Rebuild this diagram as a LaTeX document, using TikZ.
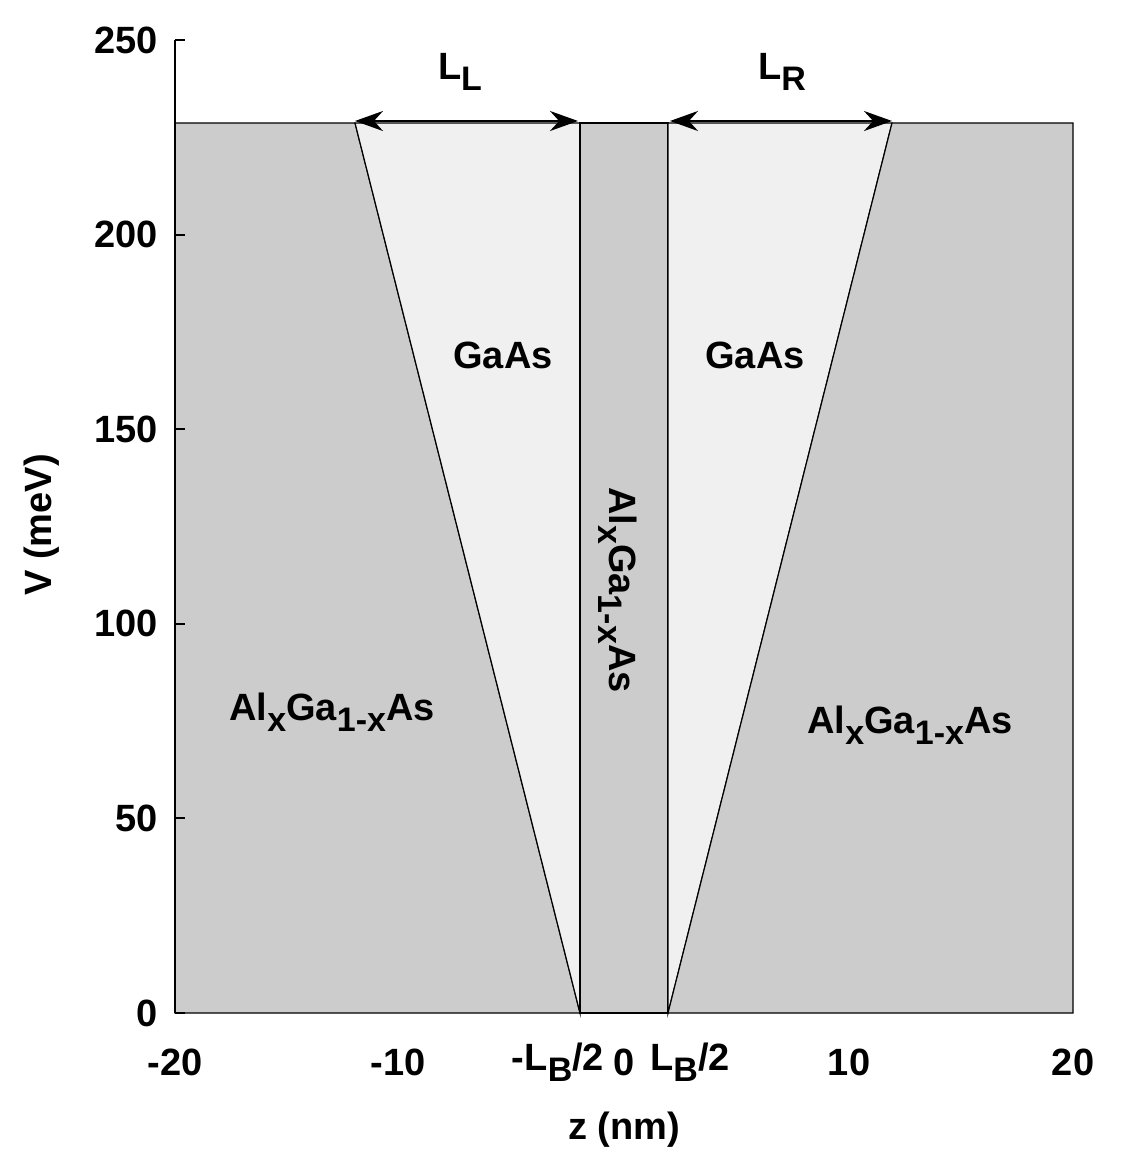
\documentclass[tikz,border=0pt]{standalone}
\usepackage{fontspec}
\setmainfont{Liberation Sans}
\usetikzlibrary{arrows.meta}
\newcommand\dnsub[1]{\raisebox{-0.55ex}{\fontsize{17}{20}\selectfont #1}}
\begin{document}
\begin{tikzpicture}[x=0.5pt,y=-0.5pt,
  lbl/.style={font=\fontsize{19}{22}\selectfont\bfseries,inner sep=1pt},
  dark/.style={fill=black!20,draw=black,line width=0.6pt},
  light/.style={fill=black!6,draw=black,line width=0.6pt},
  dim/.style={{Stealth[length=14pt,width=10pt]}-{Stealth[length=14pt,width=10pt]},line width=1pt}]
\useasboundingbox (0,0) rectangle (1123,1173);
\fill[white] (0,0) rectangle (1123,1173);
% regions
\draw[dark] (175,123) -- (355,123) -- (580,1013) -- (175,1013) -- cycle;
\draw[light] (355,123) -- (580,123) -- (580,1013) -- cycle;
\draw[dark] (580,123) rectangle (668,1013);
\draw[light] (668,123) -- (892,123) -- (668,1013) -- cycle;
\draw[dark] (892,123) -- (1073,123) -- (1073,1013) -- (668,1013) -- cycle;
% y axis
\draw[line width=1pt] (175,40) -- (175,1013);
\foreach \v/\n in {0/a,50/b,100/c,150/d,200/e,250/f}{
  \draw[line width=1pt] (175,{1013-3.892*\v}) -- (185,{1013-3.892*\v});
  \node[lbl,anchor=east] (y\n) at (160,{1013-3.892*\v}) {\v};
}
\node[lbl,rotate=90] (ylab) at (42,525) {V (meV)};
% x ticks
\node[lbl] (xa) at (175,1062) {-20};
\node[lbl] (xb) at (398,1062) {-10};
\node[lbl] (xc) at (558,1062) {-L\dnsub{B}/2};
\node[lbl] (xd) at (624,1062) {0};
\node[lbl] (xe) at (690,1062) {L\dnsub{B}/2};
\node[lbl] (xf) at (849,1062) {10};
\node[lbl] (xg) at (1073,1062) {20};
\node[lbl] (xlab) at (624,1130) {z (nm)};
% dimension arrows
\coordinate (l1) at (355,121); \coordinate (l2) at (578,121);
\coordinate (r1) at (670,121); \coordinate (r2) at (892,121);
\draw[dim] (l1) -- (l2);
\draw[dim] (r1) -- (r2);
\node[lbl] (LL) at (460,72) {L\dnsub{L}};
\node[lbl] (LR) at (782,72) {L\dnsub{R}};
% labels
\node[lbl] (g1) at (503,355) {GaAs};
\node[lbl] (g2) at (755,355) {GaAs};
\node[lbl] (a1) at (332,712) {Al\dnsub{x}Ga\dnsub{1-x}As};
\node[lbl] (a2) at (910,725) {Al\dnsub{x}Ga\dnsub{1-x}As};
\node[lbl,rotate=-90] (a3) at (618,590) {Al\dnsub{x}Ga\dnsub{1-x}As};
\end{tikzpicture}
\end{document}
